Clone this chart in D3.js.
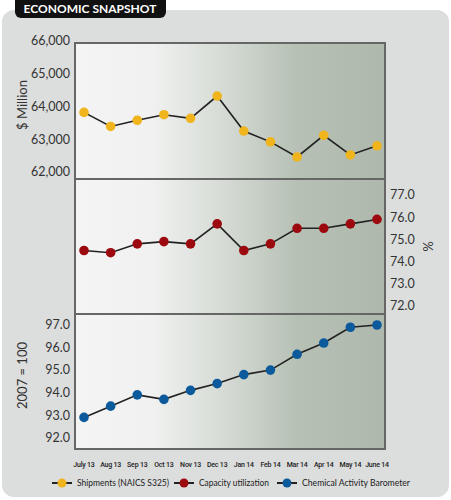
<!DOCTYPE html>
<html lang="en">
<head>
    <meta charset="UTF-8">
    <script src="https://d3js.org/d3.v7.min.js"></script>
    <style>
        body { margin: 0; background: #fff; }
        .tick-label { font-family: Lato, "Open Sans", sans-serif; font-size: 12.5px; fill: #333; }
        .axis-title { font-family: Lato, "Open Sans", sans-serif; font-size: 13px; fill: #333; }
        .month { font-family: Roboto, sans-serif; font-size: 7px; font-weight: 500; fill: #222; letter-spacing: -0.2px; }
        .legend { font-family: Lato, "Open Sans", sans-serif; font-size: 9.4px; fill: #222; }
        .frame { fill: none; stroke: #666; stroke-width: 2px; }
        .series-line { fill: none; stroke: #222; stroke-width: 1.6px; }
    </style>
    <title>Economic Snapshot</title>
</head>
<body>
<svg id="chart" width="451" height="500"></svg>
<script>
    // data
    const months = ["July 13", "Aug 13", "Sep 13", "Oct 13", "Nov 13", "Dec 13",
                    "Jan 14", "Feb 14", "Mar 14", "Apr 14", "May 14", "June 14"];
    const shipments = [63820, 63390, 63580, 63750, 63640, 64320,
                       63250, 62920, 62460, 63120, 62520, 62800];
    const capacity = [74.5, 74.4, 74.8, 74.9, 74.8, 75.7,
                      74.5, 74.8, 75.5, 75.5, 75.7, 75.9];
    const barometer = [92.9, 93.4, 93.9, 93.7, 94.1, 94.4,
                       94.8, 95.0, 95.7, 96.2, 96.9, 97.0];
    const shipmentTicks = [62000, 63000, 64000, 65000, 66000];
    const capacityTicks = [72, 73, 74, 75, 76, 77];
    const barometerTicks = [92, 93, 94, 95, 96, 97];
    const legendItems = [
        { label: "Shipments (NAICS S325)", color: "#f0b41c" },
        { label: "Capacity utilization", color: "#9c0a0f" },
        { label: "Chemical Activity Barometer", color: "#0c5a9c" }
    ];

    const svg = d3.select("#chart");
    const plotLeft = 75, plotRight = 385;

    // outer grey card and title badge
    svg.append("rect")
        .attr("x", 2).attr("y", 10).attr("width", 447).attr("height", 487)
        .attr("rx", 12).attr("fill", "#dcdddd");
    svg.append("rect")
        .attr("x", 15).attr("y", -6).attr("width", 151).attr("height", 24)
        .attr("rx", 6).attr("fill", "#111");
    svg.append("text")
        .text("ECONOMIC SNAPSHOT")
        .attr("x", 90).attr("y", 13)
        .attr("text-anchor", "middle")
        .attr("fill", "#fff")
        .style("font-family", "Lato, 'Open Sans', sans-serif")
        .style("font-weight", 700)
        .style("font-size", "12px");

    // background gradient for plot area
    const defs = svg.append("defs");
    const grad = defs.append("linearGradient")
        .attr("id", "bg").attr("gradientUnits", "userSpaceOnUse")
        .attr("x1", plotLeft).attr("x2", plotRight).attr("y1", 0).attr("y2", 0);
    [[0, "#f4f4f4"], [0.25, "#f0f1f0"], [0.5, "#d3d9d2"], [0.72, "#b6c0b4"], [1, "#afb8ac"]]
        .forEach(s => grad.append("stop").attr("offset", s[0]).attr("stop-color", s[1]));

    const x = d3.scalePoint().domain(months).range([84, 377]);

    const panels = [
        { values: shipments, ticks: shipmentTicks, domain: [62000, 66000], range: [172, 41],
          top: 43, bottom: 179, side: "left", fmt: d3.format(","), title: "$ Million", color: legendItems[0].color },
        { values: capacity, ticks: capacityTicks, domain: [72, 77], range: [306, 195],
          top: 179, bottom: 314, side: "right", fmt: d3.format(".1f"), title: "%", color: legendItems[1].color },
        { values: barometer, ticks: barometerTicks, domain: [92, 97], range: [437.7, 325],
          top: 314, bottom: 449, side: "left", fmt: d3.format(".1f"), title: "2007 = 100", color: legendItems[2].color }
    ];

    svg.append("rect")
        .attr("x", plotLeft).attr("y", 43)
        .attr("width", plotRight - plotLeft).attr("height", 449 - 43)
        .attr("fill", "url(#bg)");

    panels.forEach(p => {
        const y = d3.scaleLinear().domain(p.domain).range(p.range);
        const g = svg.append("g");

        // tick labels
        g.selectAll(".tick-label").data(p.ticks).enter().append("text")
            .attr("class", "tick-label")
            .attr("x", p.side === "left" ? 70 : 390)
            .attr("y", d => y(d))
            .attr("dy", "0.35em")
            .attr("text-anchor", p.side === "left" ? "end" : "start")
            .text(d => p.fmt(d));

        // axis title
        const tx = p.side === "left" ? 22 : 428;
        const ty = (p.top + p.bottom) / 2 + (p.side === "left" ? -6 : 0);
        g.append("text")
            .attr("class", "axis-title")
            .attr("transform", "translate(" + tx + "," + ty + ") rotate(" + (p.side === "left" ? -90 : 90) + ")")
            .attr("text-anchor", "middle")
            .attr("dy", "0.35em")
            .text(p.title);

        // line + dots
        const line = d3.line().x((d, i) => x(months[i])).y(d => y(d));
        g.append("path").datum(p.values)
            .attr("class", "series-line")
            .attr("d", line);
        g.selectAll("circle").data(p.values).enter().append("circle")
            .attr("cx", (d, i) => x(months[i]))
            .attr("cy", d => y(d))
            .attr("r", 4.8)
            .attr("fill", p.color);

        g.append("rect")
            .attr("class", "frame")
            .attr("x", plotLeft).attr("y", p.top)
            .attr("width", plotRight - plotLeft).attr("height", p.bottom - p.top);
    });

    // month labels
    svg.selectAll(".month").data(months).enter().append("text")
        .attr("class", "month")
        .attr("x", d => x(d))
        .attr("y", 467)
        .attr("text-anchor", "middle")
        .text(d => d);

    // legend (text squeezed to the narrow face used in the original)
    const legendX = [52, 174, 277];
    const legendW = [92, 70, 108];
    const legend = svg.append("g").attr("transform", "translate(0,483)");
    legendItems.forEach((item, i) => {
        const lg = legend.append("g").attr("transform", "translate(" + legendX[i] + ",0)");
        lg.append("line")
            .attr("x1", 0).attr("x2", 20).attr("y1", 0).attr("y2", 0)
            .attr("stroke", "#222").attr("stroke-width", 2);
        lg.append("circle")
            .attr("cx", 10).attr("cy", 0).attr("r", 4.5)
            .attr("fill", item.color);
        lg.append("text")
            .attr("class", "legend")
            .attr("x", 25).attr("y", 0).attr("dy", "0.35em")
            .attr("textLength", legendW[i])
            .attr("lengthAdjust", "spacingAndGlyphs")
            .text(item.label);
    });
</script>
</body>
</html>
